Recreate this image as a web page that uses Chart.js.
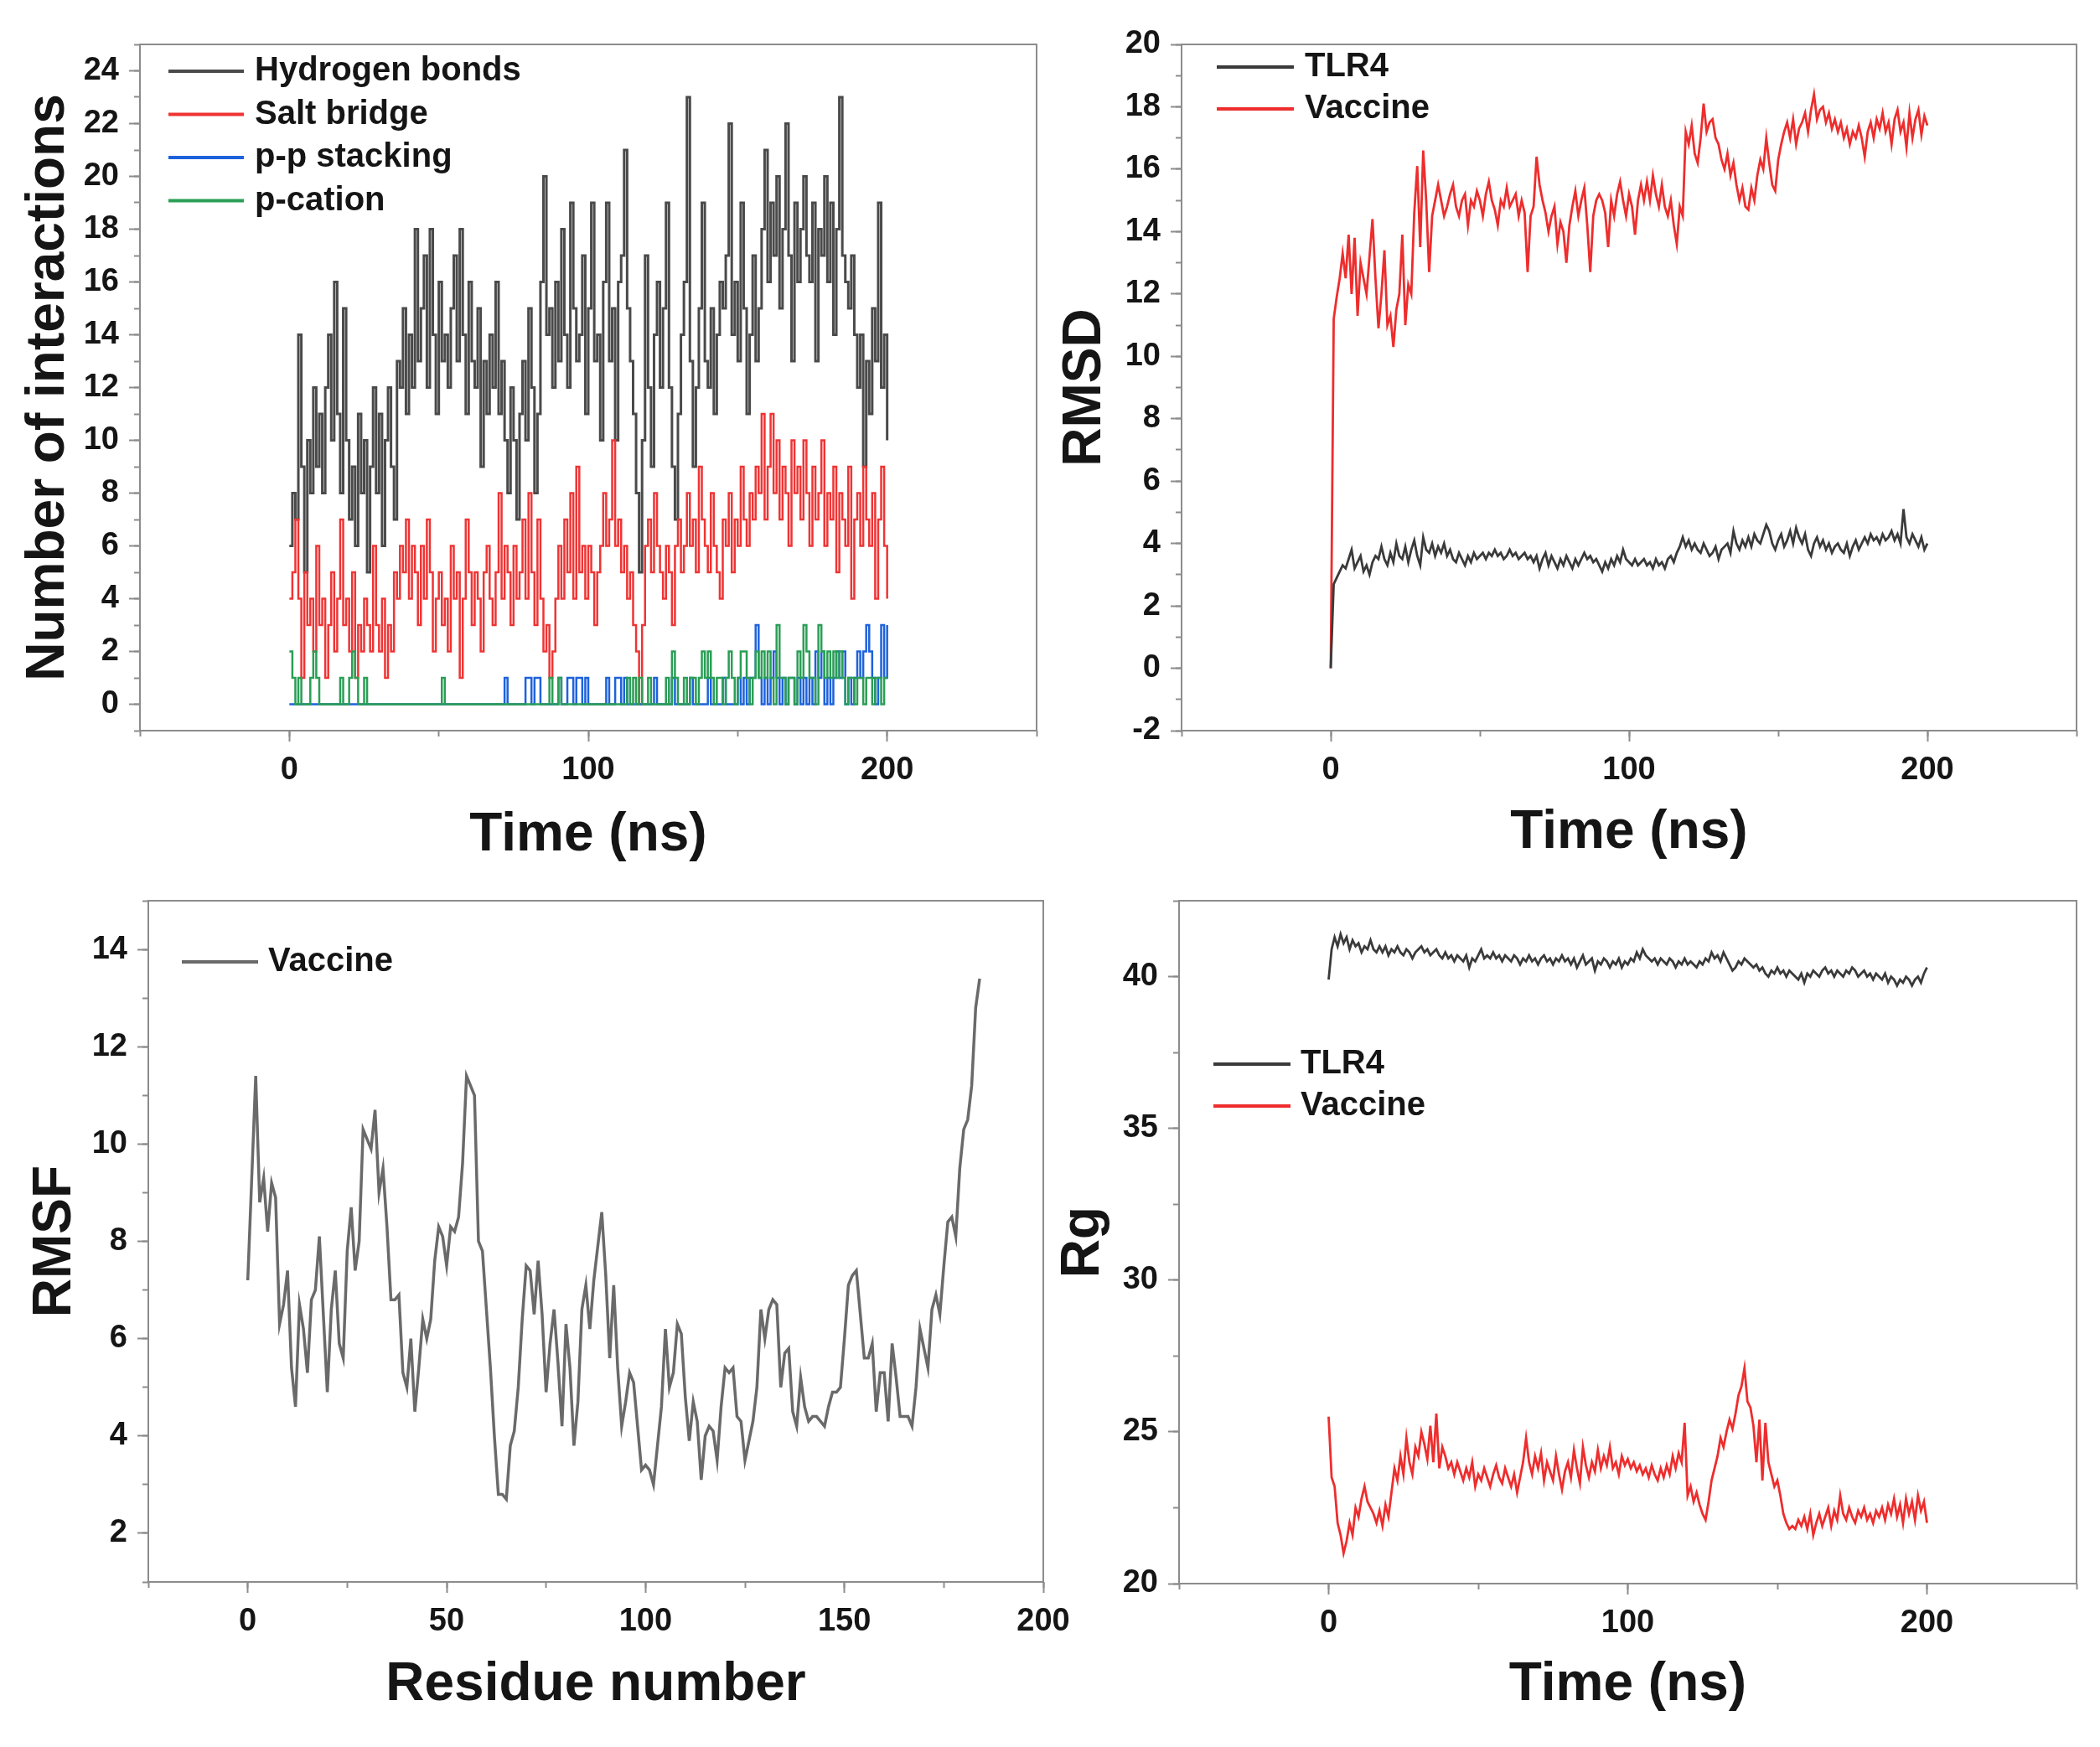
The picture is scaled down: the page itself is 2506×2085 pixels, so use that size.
<!DOCTYPE html>
<html>
<head>
<meta charset="utf-8">
<title>MD simulation panels</title>
<script src="https://cdn.jsdelivr.net/npm/chart.js@4.4.1/dist/chart.umd.min.js"></script>
<style>
  body { margin: 0; background: #fff; }
  #page { position: relative; width: 2506px; height: 2085px; background: #fff; }
  #page canvas { position: absolute; }
</style>
</head>
<body>
<div id="page">
  <canvas id="interChart" width="1253" height="1040" style="left:0;top:0"></canvas>
  <canvas id="rmsdChart" width="1253" height="1040" style="left:1253px;top:0"></canvas>
  <canvas id="rgChart" width="1253" height="1045" style="left:1253px;top:1040px"></canvas>
  <canvas id="rmsfChart" width="1300" height="1045" style="left:0;top:1040px"></canvas>
</div>
<script>
// one saved frame per ns, 0..200 ns
const timeStep = 1;

// top left: interactions over time
const hbonds = [
  6, 8, 7, 14, 9, 5, 10, 8, 12, 9,
  11, 8, 12, 14, 10, 16, 11, 8, 15, 10,
  7, 9, 6, 11, 8, 10, 5, 9, 12, 8,
  11, 6, 10, 12, 9, 7, 13, 12, 15, 11,
  14, 12, 18, 13, 15, 17, 12, 18, 14, 11,
  16, 13, 14, 12, 15, 17, 13, 18, 14, 11,
  16, 13, 12, 15, 9, 13, 11, 14, 12, 16,
  11, 13, 10, 8, 12, 10, 7, 11, 13, 10,
  15, 12, 8, 11, 16, 20, 14, 15, 12, 16,
  13, 18, 14, 12, 19, 15, 13, 14, 17, 11,
  15, 19, 13, 14, 10, 16, 19, 13, 15, 10,
  16, 17, 21, 15, 13, 11, 8, 5, 10, 17,
  12, 9, 14, 16, 12, 15, 19, 12, 9, 7,
  11, 14, 16, 23, 13, 9, 12, 15, 19, 13,
  12, 15, 11, 14, 16, 15, 17, 22, 14, 16,
  13, 19, 15, 11, 14, 17, 13, 15, 18, 21,
  16, 19, 17, 20, 15, 18, 22, 17, 13, 19,
  16, 18, 20, 17, 16, 19, 13, 18, 17, 20,
  16, 19, 14, 18, 23, 17, 16, 15, 17, 14,
  12, 14, 9, 13, 11, 15, 13, 19, 12, 14,
  10
];
const saltBridge = [
  4, 5, 7, 4, 1, 5, 3, 4, 2, 6,
  3, 4, 1, 3, 5, 2, 4, 7, 3, 4,
  2, 5, 1, 3, 2, 4, 3, 2, 6, 3,
  2, 4, 1, 3, 2, 5, 4, 6, 5, 7,
  4, 6, 5, 3, 6, 4, 7, 5, 2, 4,
  5, 3, 4, 2, 6, 4, 5, 1, 4, 7,
  5, 3, 5, 4, 2, 5, 6, 4, 3, 5,
  8, 4, 6, 5, 3, 6, 4, 5, 7, 4,
  8, 5, 3, 7, 4, 2, 3, 1, 2, 4,
  6, 4, 7, 5, 8, 4, 9, 5, 6, 4,
  6, 5, 3, 5, 6, 8, 6, 7, 10, 6,
  7, 5, 6, 4, 5, 3, 2, 0, 3, 6,
  7, 5, 8, 6, 5, 4, 6, 5, 3, 6,
  7, 5, 6, 8, 6, 7, 5, 9, 7, 6,
  5, 8, 6, 5, 4, 7, 6, 8, 5, 7,
  6, 9, 7, 6, 8, 7, 9, 8, 11, 7,
  9, 11, 8, 10, 7, 9, 8, 6, 10, 8,
  9, 7, 10, 8, 6, 9, 7, 8, 10, 6,
  8, 7, 9, 5, 8, 7, 6, 9, 4, 7,
  8, 6, 9, 7, 6, 8, 4, 7, 9, 6,
  4
];
const ppStacking = [
  0, 0, 0, 0, 0, 0, 0, 0, 0, 0,
  0, 0, 0, 0, 0, 0, 0, 0, 0, 0,
  0, 0, 0, 0, 0, 0, 0, 0, 0, 0,
  0, 0, 0, 0, 0, 0, 0, 0, 0, 0,
  0, 0, 0, 0, 0, 0, 0, 0, 0, 0,
  0, 0, 0, 0, 0, 0, 0, 0, 0, 0,
  0, 0, 0, 0, 0, 0, 0, 0, 0, 0,
  0, 0, 1, 0, 0, 0, 0, 0, 0, 1,
  1, 0, 1, 1, 0, 0, 0, 0, 0, 0,
  1, 0, 0, 1, 1, 0, 1, 1, 0, 1,
  0, 0, 0, 0, 0, 0, 1, 0, 0, 1,
  1, 0, 1, 0, 0, 0, 0, 0, 0, 0,
  0, 0, 1, 0, 0, 0, 0, 0, 1, 0,
  0, 0, 0, 0, 1, 0, 0, 0, 0, 0,
  1, 0, 0, 0, 0, 1, 0, 0, 0, 0,
  1, 0, 1, 0, 1, 1, 3, 1, 0, 1,
  0, 1, 2, 1, 0, 1, 0, 1, 1, 0,
  1, 0, 1, 0, 1, 0, 2, 1, 2, 0,
  1, 0, 1, 2, 1, 2, 0, 1, 0, 1,
  2, 1, 2, 3, 2, 1, 0, 1, 3, 1,
  3
];
const pCation = [
  2, 1, 0, 1, 0, 0, 0, 1, 2, 1,
  0, 0, 0, 0, 0, 0, 0, 1, 0, 0,
  1, 2, 1, 0, 0, 1, 0, 0, 0, 0,
  0, 0, 0, 0, 0, 0, 0, 0, 0, 0,
  0, 0, 0, 0, 0, 0, 0, 0, 0, 0,
  0, 1, 0, 0, 0, 0, 0, 0, 0, 0,
  0, 0, 0, 0, 0, 0, 0, 0, 0, 0,
  0, 0, 0, 0, 0, 0, 0, 0, 0, 0,
  0, 0, 0, 0, 0, 0, 0, 1, 0, 0,
  1, 0, 0, 0, 0, 0, 0, 0, 0, 0,
  0, 0, 0, 0, 0, 0, 0, 0, 0, 0,
  0, 0, 0, 1, 0, 1, 0, 1, 0, 0,
  1, 0, 0, 0, 0, 0, 1, 0, 2, 1,
  0, 0, 1, 0, 1, 1, 0, 1, 2, 1,
  2, 1, 0, 1, 1, 0, 1, 2, 1, 0,
  1, 2, 2, 1, 0, 1, 2, 1, 2, 1,
  2, 1, 0, 3, 1, 1, 0, 1, 1, 0,
  2, 1, 3, 2, 1, 1, 0, 3, 2, 1,
  2, 1, 2, 1, 2, 1, 0, 1, 1, 0,
  1, 1, 0, 1, 1, 0, 1, 1, 0, 1,
  1
];
const interYTicks = [0, 2, 4, 6, 8, 10, 12, 14, 16, 18, 20, 22, 24];
const timeTicks = [0, 100, 200];

// top right: RMSD
const rmsdTLR4 = [
  0, 2.7, 2.9, 3.1, 3.3, 3.2, 3.5, 3.8, 3.2, 3.4,
  3.6, 3.1, 3.3, 3.0, 3.4, 3.6, 3.5, 3.9, 3.5, 3.3,
  3.7, 3.4, 4.0, 3.6, 3.5, 3.9, 3.4, 3.8, 4.1, 3.6,
  3.3, 4.2, 3.8, 3.7, 4.0, 3.6, 3.9, 3.7, 4.0, 3.6,
  3.8, 3.5, 3.4, 3.7, 3.5, 3.3, 3.6, 3.4, 3.7, 3.5,
  3.6, 3.7, 3.5, 3.7, 3.6, 3.8, 3.6, 3.7, 3.5, 3.6,
  3.8, 3.6, 3.7, 3.5, 3.6, 3.7, 3.5, 3.6, 3.4, 3.6,
  3.2, 3.5, 3.7, 3.3, 3.6, 3.4, 3.2, 3.5, 3.3, 3.6,
  3.4, 3.2, 3.5, 3.3, 3.5, 3.7, 3.5, 3.6, 3.4, 3.5,
  3.3, 3.1, 3.4, 3.2, 3.5, 3.3, 3.6, 3.4, 3.8, 3.5,
  3.4, 3.3, 3.5, 3.3, 3.4, 3.5, 3.3, 3.4, 3.2, 3.5,
  3.3, 3.4, 3.2, 3.5, 3.6, 3.4, 3.7, 3.9, 4.2, 3.9,
  4.1, 3.8, 4.0, 3.8, 3.7, 4.0, 3.8, 3.6, 3.7, 3.9,
  3.5, 3.8, 3.9, 4.0, 3.7, 4.4, 4.0, 3.8, 4.1, 3.9,
  4.2, 3.9, 4.3, 4.1, 4.0, 4.3, 4.6, 4.4, 4.0, 3.8,
  4.1, 4.3, 3.9, 4.1, 4.4, 4.0, 4.5, 4.2, 4.0, 4.3,
  3.8, 3.6, 4.0, 4.2, 3.9, 4.1, 3.8, 4.0, 3.7, 3.9,
  4.0, 3.8, 3.7, 4.0, 3.6, 3.9, 4.1, 3.8, 4.0, 4.2,
  4.0, 4.3, 4.1, 4.2, 4.0, 4.3, 4.1, 4.2, 4.4, 4.1,
  4.3, 4.0, 5.1, 4.2, 4.0, 4.3, 4.1, 3.9, 4.2, 3.8,
  4.0
];
const rmsdVaccine = [
  0, 11.2, 11.9, 12.5, 13.3, 12.5, 13.9, 12.0, 13.8, 11.3,
  13.0, 12.5, 12.0, 13.2, 14.4, 12.5, 10.9, 12.0, 13.4, 11.0,
  11.3, 10.3, 11.5, 12.0, 13.9, 11.0, 12.3, 12.0, 14.6, 16.1,
  13.5, 16.6, 15.0, 12.7, 14.5, 15.0, 15.5, 15.0, 14.5, 14.8,
  15.2, 15.5, 14.8, 14.5, 15.0, 15.2, 14.2, 15.0, 14.8, 15.3,
  15.0, 14.5, 15.2, 15.6, 15.0, 14.7, 14.2, 15.0, 14.8, 15.4,
  14.8, 15.0, 15.2, 14.5, 15.0, 14.6, 12.7, 14.5, 14.8, 16.4,
  15.5, 15.0, 14.6, 14.0, 14.5, 14.8, 13.6, 14.3, 14.0, 13.0,
  14.2, 14.8, 15.3, 14.5, 15.0, 15.4, 14.2, 12.7, 14.5, 15.0,
  15.2, 15.0, 14.6, 13.5, 15.0, 14.5, 15.2, 15.6, 15.0, 14.5,
  15.2, 14.8, 13.9, 15.0, 15.5, 15.0, 15.6, 15.0, 15.8, 15.2,
  14.8, 15.5, 14.8, 14.5, 15.0, 14.2, 13.6, 14.8, 14.5, 17.2,
  16.8, 17.4, 16.5, 16.2, 17.0, 18.1, 17.2, 17.5, 17.6, 17.0,
  16.8, 16.3, 16.0, 16.5, 15.8, 16.2, 15.5, 15.0, 15.4, 14.8,
  14.7, 15.4, 15.0, 15.8, 16.3, 16.0, 17.0, 16.2, 15.5, 15.3,
  16.3, 16.8, 17.2, 17.5, 17.0, 17.6, 16.8, 17.3, 17.5, 17.8,
  17.2, 17.9, 18.4, 17.6, 17.9, 18.0, 17.5, 17.8, 17.3, 17.6,
  17.2, 17.5, 17.0, 17.3, 16.8, 17.2, 17.0, 17.4, 17.0, 16.4,
  17.2, 17.5, 17.0, 17.6, 17.3, 17.8, 17.2, 17.5, 16.8, 17.6,
  17.9, 17.2, 17.5, 16.7, 17.8, 17.0, 17.6, 17.9, 17.1, 17.7,
  17.4
];
const rmsdYTicks = [-2, 0, 2, 4, 6, 8, 10, 12, 14, 16, 18, 20];

// bottom left: RMSF per residue (residue 0..184)
const rmsfVaccine = [
  7.2, 9.3, 11.4, 8.8, 9.3, 8.2, 9.2, 8.9, 6.3, 6.7,
  7.4, 5.4, 4.6, 6.7, 6.2, 5.3, 6.8, 7.0, 8.1, 6.5,
  4.9, 6.6, 7.4, 5.9, 5.6, 7.8, 8.7, 7.4, 8.0, 10.3,
  10.1, 9.9, 10.7, 9.0, 9.5, 8.3, 6.8, 6.8, 6.9, 5.3,
  5.0, 6.0, 4.5, 5.4, 6.4, 6.0, 6.4, 7.6, 8.3, 8.1,
  7.5, 8.3, 8.2, 8.5, 9.6, 11.4, 11.2, 11.0, 8.0, 7.8,
  6.6, 5.4, 4.0, 2.8, 2.8, 2.7, 3.8, 4.1, 5.0, 6.4,
  7.5, 7.4, 6.5, 7.6, 6.5, 4.9, 5.9, 6.6, 5.5, 4.2,
  6.3, 5.4, 3.8, 4.7, 6.6, 7.1, 6.2, 7.2, 7.9, 8.6,
  7.3, 5.6, 7.1, 5.4, 4.2, 4.7, 5.3, 5.1, 4.2, 3.3,
  3.4, 3.3, 3.0, 3.8, 4.6, 6.2, 5.0, 5.3, 6.3, 6.1,
  4.8, 3.9, 4.7, 4.3, 3.1, 4.0, 4.2, 4.1, 3.5, 4.6,
  5.4, 5.3, 5.4, 4.4, 4.3, 3.5, 3.9, 4.3, 5.0, 6.6,
  6.0, 6.6, 6.8, 6.7, 5.0, 5.7, 5.8, 4.5, 4.2, 5.2,
  4.6, 4.3, 4.4, 4.4, 4.3, 4.2, 4.6, 4.9, 4.9, 5.0,
  6.0, 7.1, 7.3, 7.4, 6.5, 5.6, 5.6, 5.9, 4.5, 5.3,
  5.3, 4.3, 5.9, 5.2, 4.4, 4.4, 4.4, 4.2, 5.0, 6.2,
  5.8, 5.4, 6.6, 6.9, 6.5, 7.5, 8.4, 8.5, 8.1, 9.5,
  10.3, 10.5, 11.2, 12.8, 13.4
];
const residueTicks = [0, 50, 100, 150, 200];
const rmsfYTicks = [2, 4, 6, 8, 10, 12, 14];

// bottom right: radius of gyration
const rgTLR4 = [
  39.9, 40.9, 41.3, 41.0, 41.4, 41.1, 41.3, 40.9, 41.2, 41.0,
  41.1, 40.8, 41.0, 40.9, 41.2, 40.9, 40.8, 41.0, 40.8, 41.0,
  40.7, 40.9, 40.8, 41.0, 40.8, 40.7, 40.9, 40.8, 40.6, 40.8,
  40.9, 41.0, 40.8, 40.9, 40.7, 40.8, 40.9, 40.7, 40.6, 40.8,
  40.6, 40.7, 40.5, 40.7, 40.6, 40.5, 40.7, 40.3, 40.6, 40.5,
  40.7, 40.9, 40.6, 40.7, 40.6, 40.8, 40.6, 40.7, 40.5, 40.7,
  40.6, 40.5, 40.7, 40.6, 40.4, 40.6, 40.5, 40.7, 40.5, 40.6,
  40.4, 40.6, 40.7, 40.5, 40.6, 40.4, 40.6, 40.5, 40.7, 40.5,
  40.6, 40.4, 40.6, 40.3, 40.5, 40.7, 40.4, 40.5, 40.6, 40.2,
  40.5, 40.4, 40.6, 40.5, 40.3, 40.5, 40.4, 40.6, 40.3, 40.5,
  40.4, 40.6, 40.5, 40.8, 40.6, 40.9, 40.7, 40.6, 40.5, 40.6,
  40.4, 40.6, 40.5, 40.4, 40.6, 40.5, 40.3, 40.5, 40.4, 40.6,
  40.4, 40.5, 40.4, 40.3, 40.5, 40.4, 40.6, 40.5, 40.8, 40.6,
  40.7, 40.5, 40.8, 40.6, 40.4, 40.2, 40.3, 40.5, 40.4, 40.6,
  40.5, 40.4, 40.3, 40.4, 40.2, 40.3, 40.1, 40.0, 40.2, 40.1,
  40.3, 40.1, 40.2, 40.0, 40.2, 40.1, 40.0, 39.9, 40.1, 39.8,
  40.1, 40.0, 40.2, 40.1, 40.0, 40.2, 40.3, 40.1, 40.2, 40.0,
  40.2, 40.1, 40.0, 40.2, 40.1, 40.3, 40.2, 40.0, 40.1, 40.2,
  40.0, 40.1, 39.9, 40.1, 40.0, 39.9, 40.1, 39.8, 40.0, 39.9,
  39.7, 39.9, 39.8, 40.0, 39.9, 39.7, 39.9, 40.0, 39.8, 40.1,
  40.3
];
const rgVaccine = [
  25.5, 23.5, 23.2, 22.0, 21.6, 21.0, 21.4, 22.0, 21.6, 22.5,
  22.2, 22.8, 23.2, 22.7, 22.5, 22.3, 22.0, 22.4, 21.9, 22.6,
  22.2, 23.0, 23.8, 23.4, 24.2, 23.6, 24.8, 24.0, 23.6, 24.5,
  24.2, 25.0, 24.6, 24.1, 25.2, 24.0, 25.6, 23.8, 24.5, 24.2,
  23.8, 24.0, 23.6, 24.0, 23.7, 23.4, 23.8, 23.5, 24.0, 23.2,
  23.6, 23.4, 23.8, 23.5, 23.2, 23.6, 23.9, 23.5, 23.3, 23.8,
  23.5, 23.2, 23.6, 23.0, 23.5, 24.0, 24.8, 24.0, 23.6, 24.2,
  23.8, 24.3, 23.4, 24.0, 23.7, 23.4, 24.2, 23.6, 23.1, 23.7,
  24.0, 23.5, 24.4, 23.8, 23.3, 24.5, 23.9, 23.5, 24.0, 23.7,
  24.4, 23.8, 24.2, 23.9, 24.5, 23.8, 24.0, 23.6, 24.2, 23.9,
  24.1, 23.8, 24.0, 23.7, 23.9, 23.6, 23.8, 23.5, 23.9, 23.6,
  23.4, 23.8, 23.5, 23.9, 23.6, 24.2, 23.8, 24.3, 24.0, 25.3,
  22.9, 23.2, 22.7, 23.0, 22.6, 22.3, 22.1, 22.7, 23.4, 23.8,
  24.2, 24.8, 24.5, 25.0, 25.4, 25.1, 25.6, 26.2, 26.5, 27.1,
  26.0, 25.8, 25.2, 24.0, 25.4, 23.4, 25.3, 24.0, 23.6, 23.2,
  23.4, 22.9, 22.3, 22.0, 21.8, 21.9, 21.8, 22.1, 21.9, 22.2,
  21.8, 22.3, 21.6, 22.0, 22.3, 21.9, 22.2, 22.5, 21.9, 22.4,
  22.1, 22.9, 22.3, 22.1, 22.5, 22.2, 22.0, 22.4, 22.2, 22.5,
  22.1, 22.3, 22.0, 22.4, 22.2, 22.5, 22.1, 22.6, 22.3, 22.8,
  22.2, 22.6, 22.0, 22.8, 22.3, 22.7, 22.1, 22.9, 22.4, 22.7,
  22.0
];
const rgYTicks = [20, 25, 30, 35, 40];

const frameColor = '#8c8c8c';
const textColor = '#151515';
Chart.defaults.font.family = "'Liberation Sans', Arial, sans-serif";
Chart.defaults.color = textColor;

function toPoints(values, step) {
    return values.map((v, i) => ({ x: i * step, y: v }));
}

function minorSteps(min, max, step) {
    let out = [];
    for (let v = min; v <= max + 1e-9; v += step) {
        out.push(Math.round(v * 100) / 100);
    }
    return out;
}

function setTicks(values) {
    return scale => { scale.ticks = values.map(v => ({ value: v })); };
}

// axis with labels, long ticks and title
function majorAxis(position, min, max, ticks, title, size, titlePad) {
    let horizontal = position === 'bottom';
    return {
        type: 'linear', position: position, min: min, max: max, bounds: 'data', weight: 1,
        afterBuildTicks: setTicks(ticks),
        ticks: { autoSkip: false, maxRotation: 0, padding: 12, color: textColor, font: { size: 38, weight: 'bold' } },
        grid: { drawOnChartArea: false, tickLength: 13, tickWidth: 2, tickColor: frameColor },
        border: { display: false },
        title: {
            display: true, text: title, color: textColor,
            font: { size: 64, weight: 'bold' },
            padding: horizontal ? { top: 0, bottom: titlePad } : { top: titlePad, bottom: 0 }
        },
        afterFit: s => {
            if (horizontal) s.height = size; else s.width = size;
            s.paddingLeft = 0; s.paddingRight = 0; s.paddingTop = 0; s.paddingBottom = 0;
        }
    };
}

// same range, short unlabelled ticks only
function minorAxis(position, min, max, step) {
    let horizontal = position === 'bottom';
    return {
        type: 'linear', position: position, min: min, max: max, bounds: 'data', weight: 0,
        afterBuildTicks: setTicks(minorSteps(min, max, step)),
        ticks: { display: false },
        grid: { drawOnChartArea: false, tickLength: 7, tickWidth: 2, tickColor: frameColor },
        border: { display: false },
        afterFit: s => {
            if (horizontal) s.height = 0; else s.width = 0;
            s.paddingLeft = 0; s.paddingRight = 0; s.paddingTop = 0; s.paddingBottom = 0;
        }
    };
}

const framePlugin = {
    id: 'frame',
    afterDraw(chart) {
        let a = chart.chartArea;
        let ctx = chart.ctx;
        ctx.save();
        ctx.strokeStyle = frameColor;
        ctx.lineWidth = 2;
        ctx.strokeRect(a.left, a.top, a.right - a.left, a.bottom - a.top);
        ctx.restore();
    }
};

// legend drawn inside the plot, line sample then label
const lineLegend = {
    id: 'lineLegend',
    afterDraw(chart, args, opts) {
        let a = chart.chartArea;
        let ctx = chart.ctx;
        ctx.save();
        ctx.font = "bold 40px 'Liberation Sans', Arial, sans-serif";
        ctx.textBaseline = 'middle';
        ctx.textAlign = 'left';
        chart.data.datasets.forEach((ds, i) => {
            let x = a.left + opts.left;
            let y = a.top + opts.top + i * opts.rowGap;
            ctx.strokeStyle = ds.borderColor;
            ctx.lineWidth = 4;
            ctx.beginPath();
            ctx.moveTo(x, y);
            ctx.lineTo(x + opts.lineLength, y);
            ctx.stroke();
            ctx.fillStyle = textColor;
            ctx.fillText(ds.label, x + opts.lineLength + opts.textGap, y);
        });
        ctx.restore();
    }
};

function series(label, values, step, color, width, extra) {
    return Object.assign({
        label: label,
        data: toPoints(values, step),
        borderColor: color,
        borderWidth: width,
        pointRadius: 0,
        tension: 0,
        fill: false
    }, extra || {});
}

function makeChart(id, datasets, panel) {
    return new Chart(document.getElementById(id), {
        type: 'line',
        data: { datasets: datasets },
        options: {
            responsive: false,
            animation: false,
            events: [],
            layout: { padding: { top: panel.top, right: panel.right, left: 0, bottom: 0 } },
            plugins: {
                legend: { display: false },
                tooltip: { enabled: false },
                lineLegend: panel.legend
            },
            scales: {
                x: majorAxis('bottom', panel.xMin, panel.xMax, panel.xTicks, panel.xTitle, panel.xSize, panel.xTitlePad),
                xMinor: minorAxis('bottom', panel.xMin, panel.xMax, panel.xMinor),
                y: majorAxis('left', panel.yMin, panel.yMax, panel.yTicks, panel.yTitle, panel.ySize, panel.yTitlePad),
                yMinor: minorAxis('left', panel.yMin, panel.yMax, panel.yMinor)
            }
        },
        plugins: [framePlugin, lineLegend]
    });
}

function main() {
    makeChart('interChart', [
        series('Hydrogen bonds', hbonds, timeStep, '#4a4a4a', 3, { stepped: true, order: 4 }),
        series('Salt bridge', saltBridge, timeStep, '#ef3434', 2.5, { stepped: true, order: 3 }),
        series('p-p stacking', ppStacking, timeStep, '#1d62dc', 2.5, { stepped: true, order: 2 }),
        series('p-cation', pCation, timeStep, '#2a9e55', 2.5, { stepped: true, order: 1 })
    ], {
        top: 53, right: 16,
        xMin: -50, xMax: 250, xTicks: timeTicks, xMinor: 50, xTitle: 'Time (ns)', xSize: 168, xTitlePad: 4,
        yMin: -1, yMax: 25, yTicks: interYTicks, yMinor: 1, yTitle: 'Number of interactions', ySize: 167, yTitlePad: 20,
        legend: { left: 34, top: 32, rowGap: 51.5, lineLength: 90, textGap: 13 }
    });

    makeChart('rmsdChart', [
        series('TLR4', rmsdTLR4, timeStep, '#3a3a3a', 2.8),
        series('Vaccine', rmsdVaccine, timeStep, '#ee2d2d', 2.8)
    ], {
        top: 53, right: 28,
        xMin: -50, xMax: 250, xTicks: timeTicks, xMinor: 50, xTitle: 'Time (ns)', xSize: 168, xTitlePad: 7,
        yMin: -2, yMax: 20, yTicks: rmsdYTicks, yMinor: 1, yTitle: 'RMSD', ySize: 157, yTitlePad: 4,
        legend: { left: 42, top: 27, rowGap: 50, lineLength: 92, textGap: 13 }
    });

    makeChart('rmsfChart', [
        series('Vaccine', rmsfVaccine, 1, '#6a6a6a', 3.5)
    ], {
        top: 35, right: 55,
        xMin: -25, xMax: 200, xTicks: residueTicks, xMinor: 25, xTitle: 'Residue number', xSize: 197, xTitlePad: 35,
        yMin: 1, yMax: 15, yTicks: rmsfYTicks, yMinor: 1, yTitle: 'RMSF', ySize: 177, yTitlePad: 28,
        legend: { left: 40, top: 73, rowGap: 50, lineLength: 91, textGap: 12 }
    });

    makeChart('rgChart', [
        series('TLR4', rgTLR4, timeStep, '#3a3a3a', 2.8),
        series('Vaccine', rgVaccine, timeStep, '#ee2d2d', 2.8)
    ], {
        top: 35, right: 28,
        xMin: -50, xMax: 250, xTicks: timeTicks, xMinor: 50, xTitle: 'Time (ns)', xSize: 195, xTitlePad: 35,
        yMin: 20, yMax: 42.5, yTicks: rgYTicks, yMinor: 2.5, yTitle: 'Rg', ySize: 154, yTitlePad: 2,
        legend: { left: 41, top: 195, rowGap: 50, lineLength: 92, textGap: 12 }
    });
}

main();
</script>
</body>
</html>
